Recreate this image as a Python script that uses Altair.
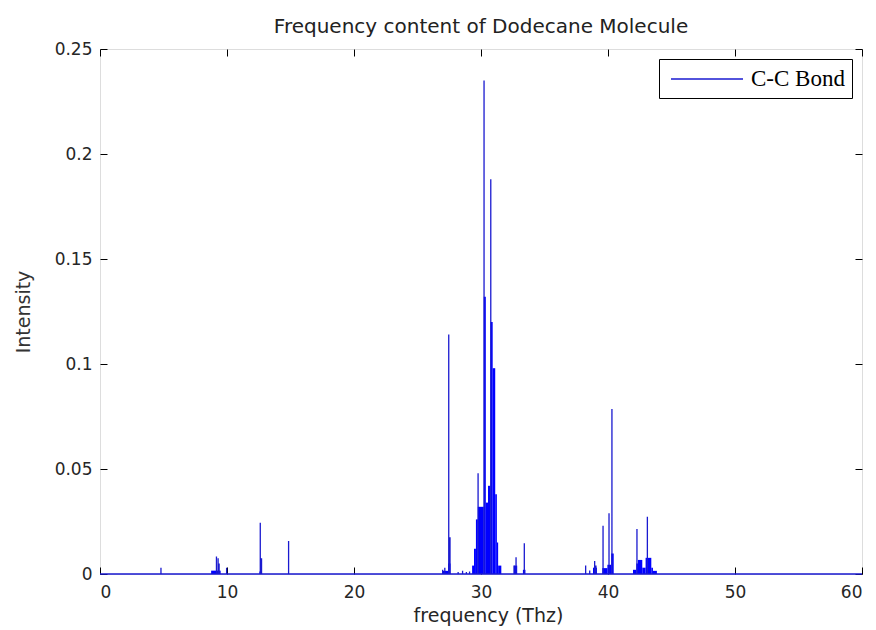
import altair as alt
import pandas as pd

# ---- data ----
spike_freq = [4.80, 9.17, 9.30, 9.38, 9.97, 12.62, 12.72, 14.85,
              26.98, 27.15, 27.46, 27.56, 28.20, 28.55, 28.85, 29.10,
              29.77, 30.24, 30.77, 32.60, 32.76, 33.41,
              38.24, 38.56, 38.95, 39.05, 39.61, 40.08, 40.31,
              42.28, 43.10]
spike_height = [0.003, 0.0083, 0.0075, 0.005, 0.003, 0.0244, 0.0075, 0.0157,
                0.002, 0.003, 0.114, 0.0175, 0.001, 0.0015, 0.001, 0.0012,
                0.048, 0.235, 0.188, 0.004, 0.008, 0.0147,
                0.004, 0.0017, 0.0062, 0.004, 0.023, 0.0289, 0.0786,
                0.0214, 0.0273]

block_start = [8.75, 12.55, 27.00, 27.40, 29.30, 29.45, 29.60, 29.75, 30.22,
               30.38, 30.55, 30.75, 30.92, 31.12, 31.25, 31.35, 32.60, 33.30,
               38.82, 39.55, 39.95, 40.25, 41.97, 42.23, 42.36, 42.70, 42.96,
               43.41, 43.54]
block_end = [9.50, 12.75, 27.40, 27.60, 29.45, 29.60, 29.75, 30.22, 30.38,
             30.55, 30.75, 30.92, 31.12, 31.25, 31.35, 31.60, 32.85, 33.50,
             39.13, 39.95, 40.25, 40.45, 42.23, 42.36, 42.70, 42.96, 43.41,
             43.54, 43.85]
block_height = [0.0016, 0.0012, 0.0015, 0.005, 0.004, 0.012, 0.026, 0.032, 0.132,
                0.034, 0.042, 0.120, 0.098, 0.038, 0.015, 0.004, 0.004, 0.002,
                0.003, 0.0028, 0.0044, 0.0098, 0.002, 0.005, 0.0067, 0.003, 0.0077,
                0.003, 0.0015]

x_domain = [0, 60]
y_domain = [0, 0.25]
x_ticks = [0, 10, 20, 30, 40, 50, 60]
y_ticks = [0, 0.05, 0.1, 0.15, 0.2, 0.25]
series_name = "C-C Bond"
title_text = "Frequency content of Dodecane Molecule"
x_title = "frequency (Thz)"
y_title = "Intensity"

W, H = 762, 525
LINE_BLUE = "#1a1ad0"
FILL_BLUE = "#0000ff"
TEXT = "#262626"

# ---- tables built from the arrays ----
pts = [(x_domain[0], 0.0)]
for f, h in sorted(zip(spike_freq, spike_height)):
    pts += [(f, 0.0), (f, h), (f, 0.0)]
pts.append((x_domain[1], 0.0))
line_df = pd.DataFrame({
    "freq": [p[0] for p in pts],
    "intensity": [p[1] for p in pts],
    "order": list(range(len(pts))),
    "series": series_name,
})
block_df = pd.DataFrame({"start": block_start, "end": block_end, "height": block_height})

xscale = alt.Scale(domain=x_domain, nice=False, zero=False)
yscale = alt.Scale(domain=y_domain, nice=False)

tick_only = dict(grid=False, domain=False, labels=False, title=None, ticks=True,
                 tickSize=7, tickColor="black", tickWidth=1)

x_label_axis = alt.Axis(values=x_ticks, grid=False, domain=False, ticks=False, tickSize=0,
                        labelPadding=10, labelFont="DejaVu Sans", labelFontSize=17,
                        labelColor=TEXT, title=x_title, titleFont="DejaVu Sans",
                        titleFontSize=19, titleFontWeight="normal", titleColor=TEXT,
                        titleX=388, titleY=47, titleBaseline="alphabetic", titleAlign="center")
y_label_axis = alt.Axis(values=y_ticks, format="~g", grid=False, domain=False, ticks=False,
                        tickSize=0, labelPadding=8, labelFont="DejaVu Sans", labelFontSize=17,
                        labelColor=TEXT, title=y_title, titleFont="DejaVu Sans",
                        titleFontSize=19, titleFontWeight="normal", titleColor="#333333",
                        titleAngle=270, titleX=-71, titleY=H / 2, titleBaseline="alphabetic",
                        titleAlign="center")

blocks = alt.Chart(block_df).mark_rect(color=FILL_BLUE).encode(
    x=alt.X("start:Q", scale=xscale, axis=x_label_axis),
    x2="end:Q",
    y=alt.Y("height:Q", scale=yscale, axis=y_label_axis),
    y2=alt.datum(0),
)

line = alt.Chart(line_df).mark_line(strokeWidth=1.3).encode(
    x=alt.X("freq:Q", scale=xscale,
            axis=alt.Axis(orient="top", offset=-H, values=x_ticks, **tick_only)),
    y=alt.Y("intensity:Q", scale=yscale,
            axis=alt.Axis(orient="right", offset=-W, values=y_ticks, **tick_only)),
    order="order:Q",
    color=alt.Color("series:N", scale=alt.Scale(range=[LINE_BLUE]),
                    legend=alt.Legend(title=None, orient="top-right", offset=10,
                                      symbolType="M-3,0H3", symbolSize=576,
                                      symbolStrokeWidth=1.3, symbolStrokeColor=LINE_BLUE,
                                      labelFont="Liberation Serif", labelFontSize=23,
                                      labelColor="black", padding=7, labelOffset=31,
                                      symbolOffset=28, strokeColor="black",
                                      fillColor="white", cornerRadius=0)),
)

ghost = alt.Chart(line_df).mark_point(opacity=0).encode(
    x=alt.X("freq:Q", scale=xscale,
            axis=alt.Axis(orient="bottom", offset=-H, values=x_ticks, **tick_only)),
    y=alt.Y("intensity:Q", scale=yscale,
            axis=alt.Axis(orient="left", offset=-W, values=y_ticks, **tick_only)),
)

chart = alt.layer(blocks, line, ghost).resolve_axis(
    x="independent", y="independent"
).properties(
    width=W, height=H,
    autosize=alt.AutoSizeParams(type="none"),
    padding={"left": 100, "top": 49, "right": 14, "bottom": 56},
    title=alt.TitleParams(text=title_text, font="DejaVu Sans", fontSize=20,
                          fontWeight="normal", color="#222222", offset=17, dy=30,
                          baseline="alphabetic", anchor="middle"),
).configure_view(stroke="black", strokeWidth=1).configure(background="white")

chart.save("out.html", embed_options={"renderer": "svg", "actions": False})
